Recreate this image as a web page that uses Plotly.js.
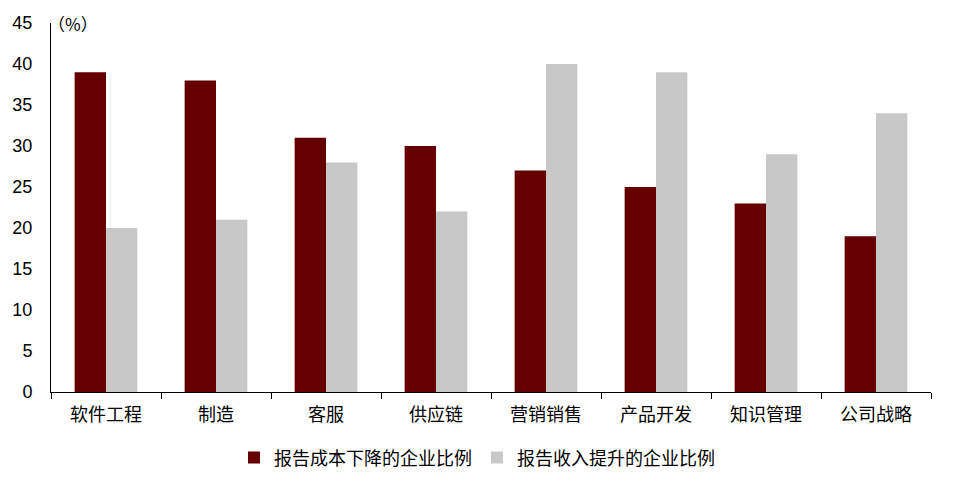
<!DOCTYPE html>
<html><head><meta charset="utf-8">
<script src="https://cdn.plot.ly/plotly-3.0.1.min.js"></script>
<style>html,body{margin:0;padding:0;background:#fff}#c{width:954px;height:487px}</style>
</head><body><div id="c"></div>
<script>
const categories = ['软件工程','制造','客服','供应链','营销销售','产品开发','知识管理','公司战略'];
const costDown = [39, 38, 31, 30, 27, 25, 23, 19];
const revenueUp = [20, 21, 28, 22, 40, 39, 29, 34];
const seriesNames = ['报告成本下降的企业比例','报告收入提升的企业比例'];
const yTicks = [0,5,10,15,20,25,30,35,40,45];

const font = "Arial, 'Liberation Sans', 'Noto Sans CJK SC', sans-serif";
const cjk = "'Noto Sans CJK SC', sans-serif";
const traces = [
  {type:'bar', x:categories, y:costDown, name:seriesNames[0], marker:{color:'#660000'}},
  {type:'bar', x:categories, y:revenueUp, name:seriesNames[1], marker:{color:'#C8C8C8'}}
];
const layout = {
  width:954, height:487,
  margin:{l:51, r:23, t:23, b:95, autoexpand:false},
  barmode:'group', bargap:0.43, bargroupgap:0,
  paper_bgcolor:'#fff', plot_bgcolor:'#fff',
  font:{family:font, color:'#000', size:18},
  xaxis:{showline:true, linecolor:'#000', linewidth:1, ticks:'outside', ticklen:6, tickcolor:'#000',
         tickson:'boundaries', showgrid:false, tickfont:{size:18, family:font}, ticklabelstandoff:6},
  yaxis:{range:[0,45], tickvals:yTicks, showline:true, linecolor:'#000', linewidth:1, ticks:'',
         showgrid:false, zeroline:false, tickfont:{size:18, family:font}, ticklabelstandoff:14},
  legend:{orientation:'h', xref:'container', x:0.5, xanchor:'center', yref:'container', y:0.06, yanchor:'middle',
          font:{size:18, family:font}, itemwidth:30, traceorder:'normal'},
  annotations:[{text:'（%）', xref:'paper', yref:'paper', x:0.0, y:1.0, xanchor:'left', yanchor:'middle',
                xshift:-5, showarrow:false, font:{size:17, family:cjk}}],
  showlegend:true
};
Plotly.newPlot('c', traces, layout, {displayModeBar:false});
</script></body></html>
